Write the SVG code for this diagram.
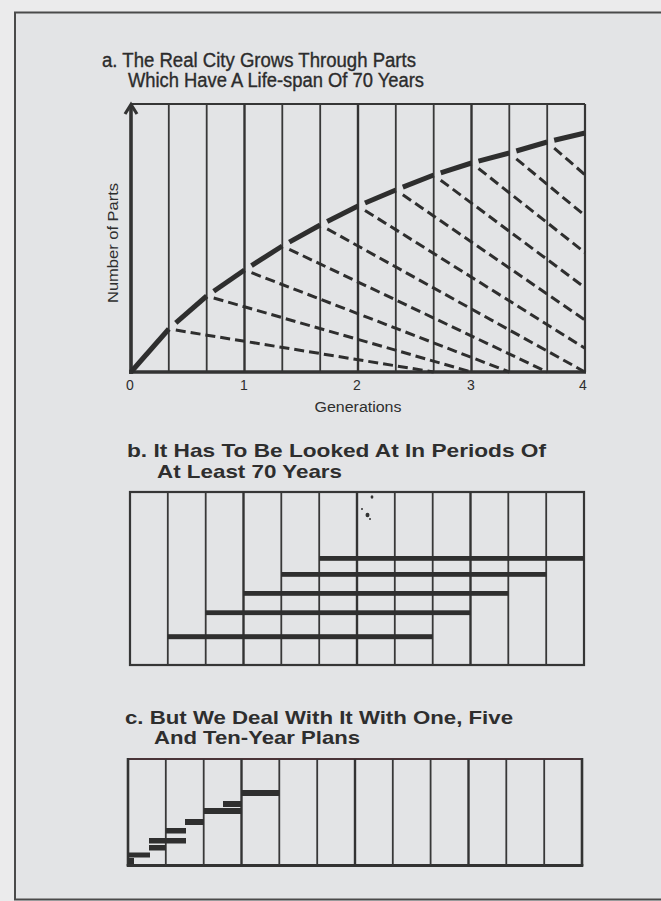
<svg xmlns="http://www.w3.org/2000/svg" width="661" height="901" viewBox="0 0 661 901">
<style>
.ink{stroke:#333;fill:none}
.thin{stroke:#383838;stroke-width:1.8;fill:none}
.gen{stroke:#333;stroke-width:2.4;fill:none}
.frame{stroke:#363636;stroke-width:2.2;fill:none}
.curve{stroke:#2e2e2e;stroke-width:5;fill:none;stroke-linecap:butt}
.dash{stroke:#2e2e2e;stroke-width:3;fill:none;stroke-dasharray:10 5}
.bar{fill:#2f2f2f}
.ta{font-family:"Liberation Sans",Arial,sans-serif;font-size:19.5px;fill:#2c2c2c;stroke:#2c2c2c;stroke-width:0.35}
.tb{font-family:"Liberation Sans",Arial,sans-serif;font-size:18.5px;font-weight:bold;fill:#2e2e2e}
.lab{font-family:"Liberation Sans",Arial,sans-serif;font-size:14px;fill:#2e2e2e}
</style>
<rect x="0" y="0" width="661" height="901" fill="#ebebec"/>
<rect x="15" y="12.5" width="660" height="887" fill="#e3e4e6" stroke="#4a4a4a" stroke-width="2"/>

<g id="title-a">
<text class="ta" x="102" y="66.5" textLength="314" lengthAdjust="spacingAndGlyphs">a. The Real City Grows Through Parts</text>
<text class="ta" x="128" y="87" textLength="296" lengthAdjust="spacingAndGlyphs">Which Have A Life-span Of 70 Years</text>
</g>

<g id="chart-a">
<g id="grid-a">
<line class="frame" x1="131" y1="104" x2="585" y2="104"/>
<line class="frame" x1="585" y1="104" x2="585" y2="372"/>
<line class="thin" x1="168.8" y1="104" x2="168.8" y2="372"/>
<line class="thin" x1="206.7" y1="104" x2="206.7" y2="372"/>
<line class="gen" x1="244.5" y1="104" x2="244.5" y2="372"/>
<line class="thin" x1="282.3" y1="104" x2="282.3" y2="372"/>
<line class="thin" x1="320.2" y1="104" x2="320.2" y2="372"/>
<line class="gen" x1="358" y1="104" x2="358" y2="372"/>
<line class="thin" x1="395.8" y1="104" x2="395.8" y2="372"/>
<line class="thin" x1="433.7" y1="104" x2="433.7" y2="372"/>
<line class="gen" x1="471.5" y1="104" x2="471.5" y2="372"/>
<line class="thin" x1="509.3" y1="104" x2="509.3" y2="372"/>
<line class="thin" x1="547.2" y1="104" x2="547.2" y2="372"/>
</g>
<g id="axes-a">
<line class="ink" stroke-width="3.6" x1="129" y1="372" x2="586" y2="372"/>
<line class="ink" stroke-width="3.6" x1="131" y1="374" x2="131" y2="106"/>
<path class="ink" stroke-width="3.2" stroke-linejoin="miter" d="M125 114 L131 104.5 L137 114"/>
</g>
<g id="curve-a">
<line class="curve" x1="131" y1="372" x2="168.8" y2="329"/>
<line class="curve" x1="175.8" y1="322.9" x2="206.7" y2="296"/>
<line class="curve" x1="213.7" y1="291.2" x2="244.5" y2="270"/>
<line class="curve" x1="251.5" y1="265.6" x2="282.3" y2="246"/>
<line class="curve" x1="289.3" y1="242.1" x2="320.2" y2="225"/>
<line class="curve" x1="327.2" y1="221.5" x2="358" y2="206"/>
<line class="curve" x1="365" y1="203" x2="395.8" y2="190"/>
<line class="curve" x1="402.8" y1="187.2" x2="433.7" y2="175"/>
<line class="curve" x1="440.7" y1="172.8" x2="471.5" y2="163"/>
<line class="curve" x1="478.5" y1="161.2" x2="509.3" y2="153"/>
<line class="curve" x1="516.3" y1="151" x2="547.2" y2="142"/>
<line class="curve" x1="554.2" y1="140.3" x2="585" y2="133"/>
</g>
<g id="decay-a">
<line class="dash" x1="175.8" y1="330.1" x2="433.7" y2="372"/>
<line class="dash" x1="213.7" y1="298" x2="471.5" y2="372"/>
<line class="dash" x1="251.5" y1="272.7" x2="509.3" y2="372"/>
<line class="dash" x1="289.3" y1="249.3" x2="547.2" y2="372"/>
<line class="dash" x1="327.2" y1="228.9" x2="585" y2="372"/>
<line class="dash" x1="365" y1="210.4" x2="585" y2="348.3"/>
<line class="dash" x1="402.8" y1="194.8" x2="585" y2="320"/>
<line class="dash" x1="440.7" y1="180.2" x2="585" y2="287.6"/>
<line class="dash" x1="478.5" y1="168.5" x2="585" y2="252.6"/>
<line class="dash" x1="516.3" y1="158.8" x2="585" y2="215.6"/>
<line class="dash" x1="554.2" y1="148.1" x2="585" y2="174.8"/>
</g>
<g id="labels-a">
<text class="lab" transform="translate(117.5 243) rotate(-90)" text-anchor="middle" textLength="120" lengthAdjust="spacingAndGlyphs">Number of Parts</text>
<text class="lab" x="130" y="389.5" text-anchor="middle">0</text>
<text class="lab" x="244" y="389.5" text-anchor="middle">1</text>
<text class="lab" x="357" y="389.5" text-anchor="middle">2</text>
<text class="lab" x="471" y="389.5" text-anchor="middle">3</text>
<text class="lab" x="583" y="389.5" text-anchor="middle">4</text>
<text class="lab" x="358" y="411.5" text-anchor="middle" textLength="87" lengthAdjust="spacingAndGlyphs">Generations</text>
</g>
</g>

<g id="title-b">
<text class="tb" x="127" y="457.3" textLength="419" lengthAdjust="spacingAndGlyphs">b. It Has To Be Looked At In Periods Of</text>
<text class="tb" x="157" y="478.3" textLength="185" lengthAdjust="spacingAndGlyphs">At Least 70 Years</text>
</g>

<g id="chart-b">
<rect class="frame" x="130" y="492" width="454" height="173"/>
<line class="thin" x1="167.8" y1="492" x2="167.8" y2="665"/>
<line class="thin" x1="205.7" y1="492" x2="205.7" y2="665"/>
<line class="gen" x1="243.5" y1="492" x2="243.5" y2="665"/>
<line class="thin" x1="281.3" y1="492" x2="281.3" y2="665"/>
<line class="thin" x1="319.2" y1="492" x2="319.2" y2="665"/>
<line class="gen" x1="357" y1="492" x2="357" y2="665"/>
<line class="thin" x1="394.8" y1="492" x2="394.8" y2="665"/>
<line class="thin" x1="432.7" y1="492" x2="432.7" y2="665"/>
<line class="gen" x1="470.5" y1="492" x2="470.5" y2="665"/>
<line class="thin" x1="508.3" y1="492" x2="508.3" y2="665"/>
<line class="thin" x1="546.2" y1="492" x2="546.2" y2="665"/>
<rect class="bar" x="167.8" y="634.2" width="264.9" height="5"/>
<rect class="bar" x="205.7" y="610.3" width="264.8" height="4.8"/>
<rect class="bar" x="243.5" y="591" width="264.8" height="4.8"/>
<rect class="bar" x="281.3" y="572" width="264.9" height="4.8"/>
<rect class="bar" x="319.2" y="556" width="264.8" height="4.8"/>
<g id="specks-b" fill="#333">
<ellipse cx="372" cy="497" rx="1.4" ry="1.8"/>
<ellipse cx="362" cy="509" rx="1" ry="1"/>
<ellipse cx="367.5" cy="515" rx="2" ry="2.3"/>
<ellipse cx="370" cy="519" rx="1" ry="1"/>
</g>
</g>

<g id="title-c">
<text class="tb" x="125" y="724" textLength="388" lengthAdjust="spacingAndGlyphs">c. But We Deal With It With One, Five</text>
<text class="tb" x="154" y="743.5" textLength="206" lengthAdjust="spacingAndGlyphs">And Ten-Year Plans</text>
</g>

<g id="chart-c">
<line x1="128" y1="759" x2="582" y2="759" stroke="#4a3438" stroke-width="2"/>
<line class="ink" stroke-width="2.6" x1="128" y1="758" x2="128" y2="866"/>
<line class="ink" stroke-width="2.6" x1="582" y1="758" x2="582" y2="866"/>
<line class="ink" stroke-width="2.8" x1="126.7" y1="865.5" x2="583.3" y2="865.5"/>
<line class="thin" x1="165.8" y1="759" x2="165.8" y2="865.5"/>
<line class="thin" x1="203.7" y1="759" x2="203.7" y2="865.5"/>
<line class="gen" x1="241.5" y1="759" x2="241.5" y2="865.5"/>
<line class="thin" x1="279.3" y1="759" x2="279.3" y2="865.5"/>
<line class="thin" x1="317.2" y1="759" x2="317.2" y2="865.5"/>
<line class="gen" x1="355" y1="759" x2="355" y2="865.5"/>
<line class="thin" x1="392.8" y1="759" x2="392.8" y2="865.5"/>
<line class="thin" x1="430.6" y1="759" x2="430.6" y2="865.5"/>
<line class="gen" x1="468.5" y1="759" x2="468.5" y2="865.5"/>
<line class="thin" x1="506.3" y1="759" x2="506.3" y2="865.5"/>
<line class="thin" x1="544.2" y1="759" x2="544.2" y2="865.5"/>
<rect class="bar" x="128" y="858" width="6" height="6"/>
<rect class="bar" x="128" y="852.5" width="22" height="5"/>
<rect class="bar" x="149" y="845" width="17" height="5.5"/>
<rect class="bar" x="149" y="838" width="37" height="5.5"/>
<rect class="bar" x="166" y="828" width="20" height="5.5"/>
<rect class="bar" x="185" y="819" width="19" height="6"/>
<rect class="bar" x="204" y="808" width="37.5" height="6"/>
<rect class="bar" x="223" y="801" width="18.5" height="6"/>
<rect class="bar" x="241.5" y="790" width="37.8" height="6"/>
</g>
<g id="connectors"/>
</svg>
